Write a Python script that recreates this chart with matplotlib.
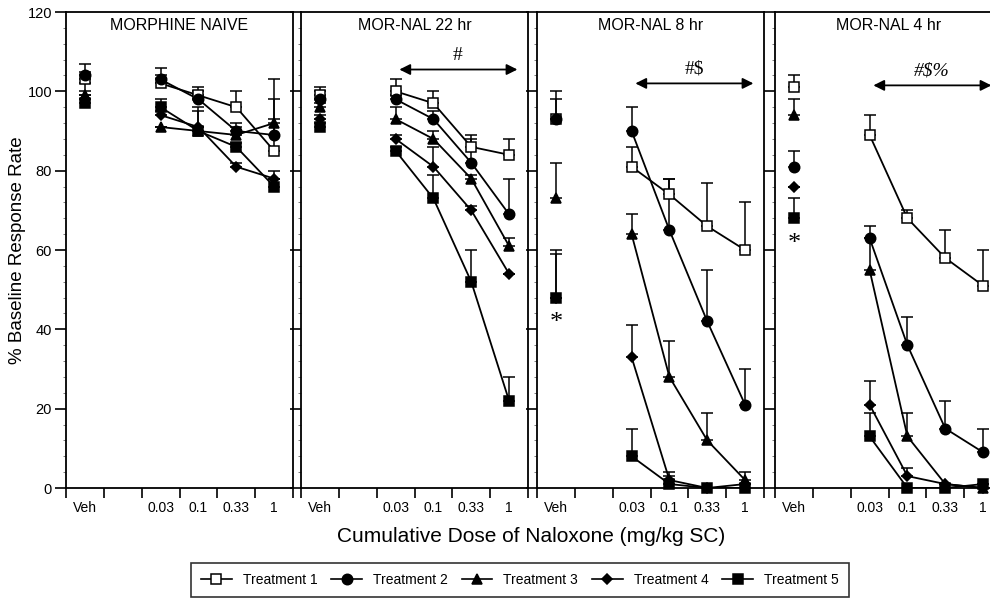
import matplotlib
matplotlib.use("Agg")
import matplotlib.pyplot as plt
from matplotlib.lines import Line2D
from matplotlib.ticker import MultipleLocator, FixedLocator, NullFormatter

plt.rcParams['font.family'] = ['Liberation Sans', 'DejaVu Sans']

doses = ["Veh", "0.03", "0.1", "0.33", "1"]
panel_titles = ["MORPHINE NAIVE", "MOR-NAL 22 hr", "MOR-NAL 8 hr", "MOR-NAL 4 hr"]
treatments = ["Treatment 1", "Treatment 2", "Treatment 3", "Treatment 4", "Treatment 5"]
sig_labels = [None, "#", "#$", "#$%"]
veh_star = [None, None, 42, 62]

# means [treatment][dose] for each panel
naive_mean = [[103, 102, 99, 96, 85],
              [104, 103, 98, 90, 89],
              [99, 91, 90, 89, 92],
              [98, 94, 91, 81, 78],
              [97, 96, 90, 86, 76]]
naive_err = [[2, 2, 2, 4, 13],
             [3, 3, 2, 2, 14],
             [3, 0, 6, 2, 1],
             [2, 1, 4, 1, 2],
             [2, 2, 1, 1, 2]]

h22_mean = [[99, 100, 97, 86, 84],
            [98, 98, 93, 82, 69],
            [96, 93, 88, 78, 61],
            [93, 88, 81, 70, 54],
            [91, 85, 73, 52, 22]]
h22_err = [[2, 3, 3, 3, 4],
           [2, 1, 2, 6, 9],
           [1, 3, 2, 1, 2],
           [1, 1, 5, 1, 0],
           [1, 1, 6, 8, 6]]

h8_mean = [[93, 81, 74, 66, 60],
           [93, 90, 65, 42, 21],
           [73, 64, 28, 12, 2],
           [48, 33, 2, 0, 1],
           [48, 8, 1, 0, 0]]
h8_err = [[7, 5, 4, 11, 12],
          [5, 6, 13, 13, 9],
          [9, 5, 9, 7, 2],
          [12, 8, 1, 0, 0],
          [11, 7, 3, 0, 0]]

h4_mean = [[101, 89, 68, 58, 51],
           [81, 63, 36, 15, 9],
           [94, 55, 13, 1, 0],
           [76, 21, 3, 1, 0],
           [68, 13, 0, 0, 1]]
h4_err = [[3, 5, 2, 7, 9],
          [4, 3, 7, 7, 6],
          [4, 8, 6, 0, 0],
          [0, 6, 2, 0, 0],
          [5, 6, 0, 1, 0]]

panel_means = [naive_mean, h22_mean, h8_mean, h4_mean]
panel_errs = [naive_err, h22_err, h8_err, h4_err]

xpos = [0.5, 2.5, 3.5, 4.5, 5.5]
markers = ['s', 'o', '^', 'D', 's']
mfaces = ['white', 'black', 'black', 'black', 'black']
msizes = [6.5, 7.5, 7.5, 5.5, 7.5]

W, H = 990, 600
fig = plt.figure(figsize=(9.9, 6.0), dpi=100)
lefts = [66, 301, 537, 775]
width = 227
bottom = (H - 488) / H
height = 476 / H

for i, title in enumerate(panel_titles):
    ax = fig.add_axes([lefts[i] / W, bottom, width / W, height])
    ax.set_xlim(0, 6)
    ax.set_ylim(0, 120)
    for s in ax.spines.values():
        s.set_linewidth(1.3)
        s.set_color('black')
    ax.xaxis.set_major_locator(FixedLocator([0, 1, 2, 3, 4, 5, 6]))
    ax.xaxis.set_major_formatter(NullFormatter())
    ax.xaxis.set_minor_locator(FixedLocator(xpos))
    ax.set_xticklabels(doses, minor=True)
    ax.tick_params(axis='x', which='major', direction='out', length=7, width=1.2)
    ax.tick_params(axis='x', which='minor', length=0, labelsize=10, pad=9)
    ax.yaxis.set_major_locator(MultipleLocator(20))
    ax.yaxis.set_minor_locator(MultipleLocator(4))
    ax.tick_params(axis='y', which='major', direction='out', length=8, width=1.2,
                   labelsize=10.5, pad=2)
    ax.tick_params(axis='y', which='minor', direction='out', length=2.5, width=0.6,
                   color='0.4')
    if i > 0:
        ax.set_yticklabels([])

    means = panel_means[i]
    errs = panel_errs[i]
    for t in range(5):
        m = means[t]
        e = errs[t]
        ax.errorbar(xpos, m, yerr=[[0] * 5, e], fmt='none', ecolor='black',
                    elinewidth=1.1, capsize=4, capthick=1.1, zorder=2)
        ax.plot(xpos[1:], m[1:], color='black', lw=1.3, zorder=3)
        ax.plot(xpos, m, linestyle='none', marker=markers[t], ms=msizes[t],
                mfc=mfaces[t], mec='black', mew=1.1, zorder=4 + t, clip_on=False)

    ax.text(3.0, 116.5, title, ha='center', va='center', fontsize=11.5)

    if sig_labels[i] is not None:
        ay = [105.5, 102, 101.5][i - 1]
        ax.annotate('', xy=(5.72, ay), xytext=(2.6, ay),
                    arrowprops=dict(arrowstyle='<|-|>', color='black', lw=1.3,
                                    mutation_scale=16, shrinkA=0, shrinkB=0))
        ax.text(4.15, ay + 1.5, sig_labels[i], ha='center', va='bottom',
                fontsize=14, family=['Liberation Serif', 'DejaVu Serif'],
                style='italic' if i == 3 else 'normal')
    if veh_star[i] is not None:
        ax.text(0.5, veh_star[i] - 0.5, '*', ha='center', va='center', fontsize=19,
                family=['Liberation Serif', 'DejaVu Serif'])

fig.text(18 / W, (H - 250) / H, '% Baseline Response Rate', rotation=90,
         ha='center', va='center', fontsize=13.5)
fig.text(531 / W, (H - 537) / H, 'Cumulative Dose of Naloxone (mg/kg SC)',
         ha='center', va='center', fontsize=15)

handles = [Line2D([0], [0], color='black', lw=1.2, marker=markers[t], ms=msizes[t],
                  mfc=mfaces[t], mec='black', mew=1.1) for t in range(5)]
leg = fig.legend(handles, treatments, ncol=5, loc='center',
                 bbox_to_anchor=(520 / W, (H - 580) / H), frameon=True,
                 fancybox=False, edgecolor='black', fontsize=10,
                 handlelength=2.2, columnspacing=1.0, borderpad=0.7,
                 handletextpad=0.8)
leg.get_frame().set_linewidth(1.2)

fig.savefig('out.png', dpi=100)
